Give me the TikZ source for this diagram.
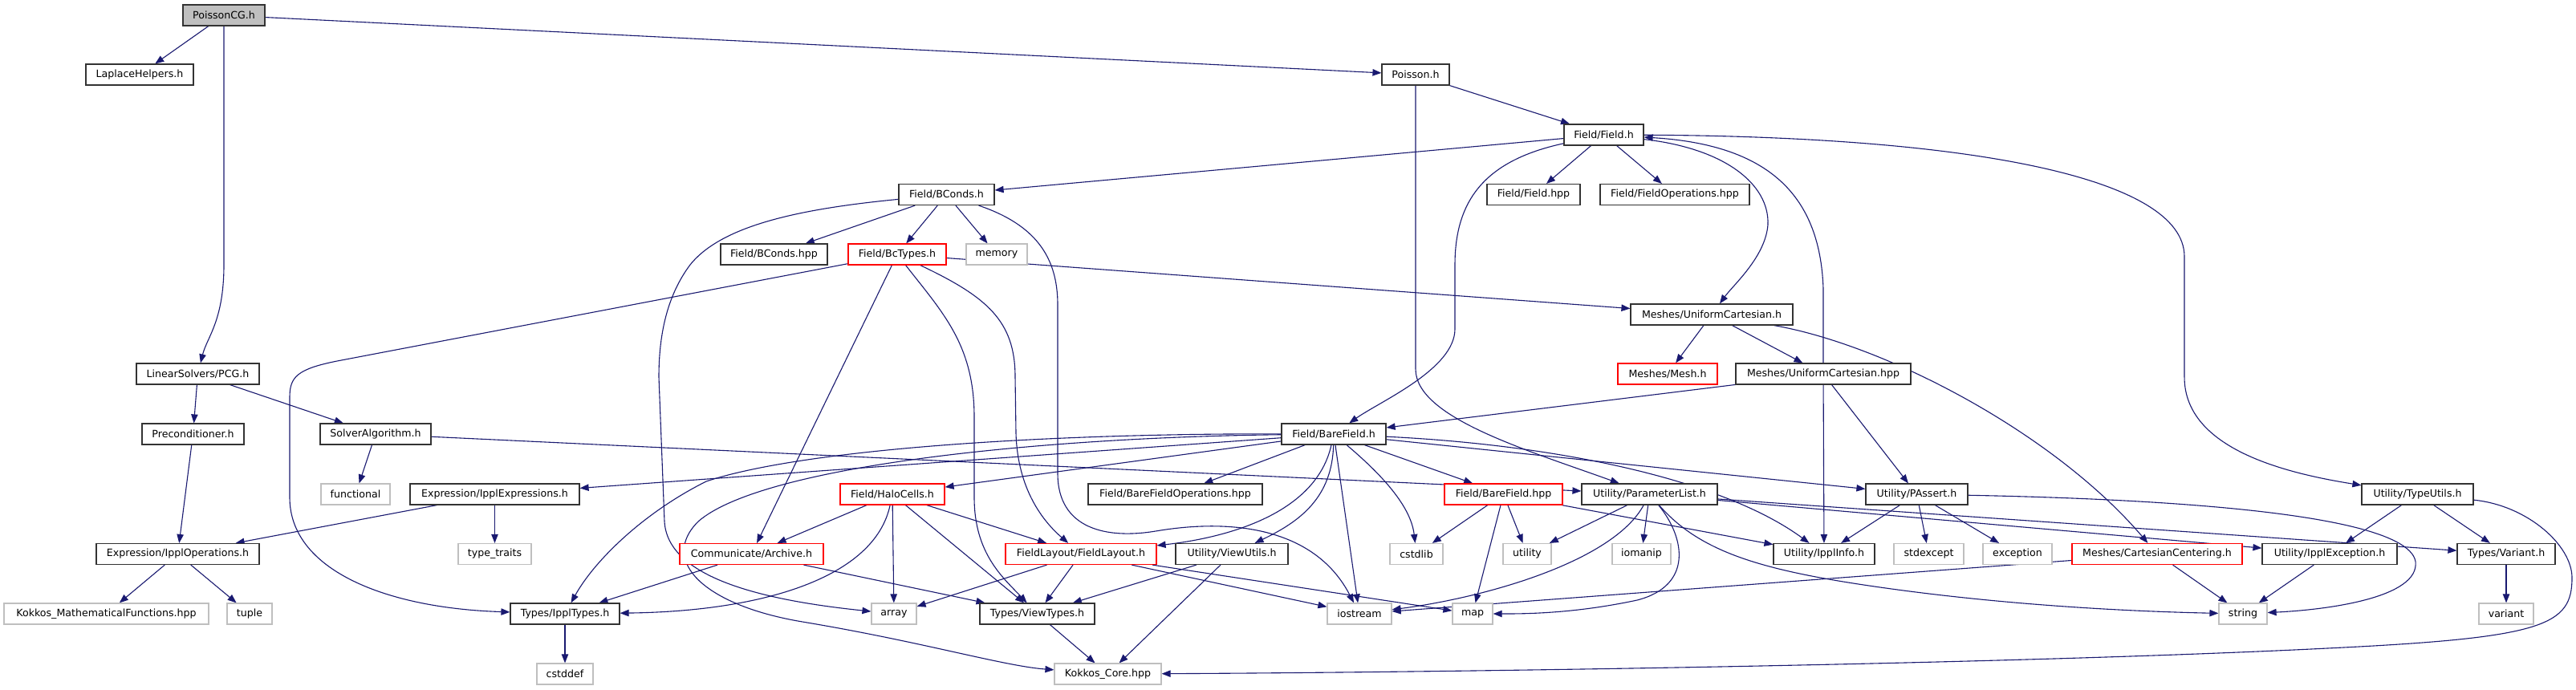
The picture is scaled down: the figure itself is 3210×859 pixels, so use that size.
\documentclass[tikz,border=0pt]{standalone}
\usepackage{fontspec}
\setmainfont{DejaVu Sans}
\usetikzlibrary{arrows.meta,calc}
\definecolor{edgeblue}{HTML}{191970}
\definecolor{extgray}{HTML}{BFBFBF}
\definecolor{boxline}{HTML}{333333}
\pgfdeclarelayer{bg}
\pgfsetlayers{bg,main}
\begin{document}
\begin{tikzpicture}[x=0.5pt,y=-0.5pt,
  box/.style={draw=boxline,line width=0.6pt,fill=white,minimum height=13pt,inner sep=0pt,
    font=\fontsize{6.3}{7.5}\selectfont,text=black},
  redbox/.style={box,draw=red},
  extbox/.style={box,draw=extgray},
  rootbox/.style={box,fill=extgray},
  bw/.style={minimum width=#1*0.5pt},
  e/.style={draw=edgeblue,line width=0.55pt,-{Triangle[length=5.5pt,width=4.2pt]}}]
\path[use as bounding box] (0,0) rectangle (3210,859);
% rank 0
\node[rootbox,bw=102] (pcg0) at (279,19) {PoissonCG.h};
% rank 1
\node[box,bw=134] (lap) at (174,93) {LaplaceHelpers.h};
\node[box,bw=84] (poi) at (1764,93) {Poisson.h};
% rank 2
\node[box,bw=99] (fld) at (1998.5,168) {Field/Field.h};
% rank 3
\node[box,bw=119] (bc) at (1179.5,242.5) {Field/BConds.h};
\node[box,bw=116] (fhpp) at (1911,242.5) {Field/Field.hpp};
\node[box,bw=186] (fops) at (2087,242.5) {Field/FieldOperations.hpp};
% rank 4
\node[box,bw=133] (bchpp) at (964.5,317) {Field/BConds.hpp};
\node[redbox,bw=122] (bct) at (1118,317) {Field/BcTypes.h};
\node[extbox,bw=76] (mem) at (1242,317) {memory};
% rank 5
\node[box,bw=202] (uc) at (2133,392) {Meshes/UniformCartesian.h};
% rank 6
\node[box,bw=153] (lpcg) at (246.5,466) {LinearSolvers/PCG.h};
\node[redbox,bw=124] (mesh) at (2078,466) {Meshes/Mesh.h};
\node[box,bw=218] (uchpp) at (2272,466) {Meshes/UniformCartesian.hpp};
% rank 7
\node[box,bw=127] (prec) at (240.5,541) {Preconditioner.h};
\node[box,bw=138] (solv) at (468,541) {SolverAlgorithm.h};
\node[box,bw=130] (bf) at (1662,541) {Field/BareField.h};
% rank 8
\node[extbox,bw=86] (func) at (443,616) {functional};
\node[box,bw=211] (iexpr) at (616.5,616) {Expression/IpplExpressions.h};
\node[redbox,bw=130] (halo) at (1112,616) {Field/HaloCells.h};
\node[box,bw=217] (bfops) at (1464.5,616) {Field/BareFieldOperations.hpp};
\node[redbox,bw=147] (bfhpp) at (1873.5,616) {Field/BareField.hpp};
\node[box,bw=169] (plist) at (2055.5,616) {Utility/ParameterList.h};
\node[box,bw=127] (pass) at (2388.5,616) {Utility/PAssert.h};
\node[box,bw=139] (tut) at (3012.5,616) {Utility/TypeUtils.h};
% rank 9
\node[box,bw=203] (iops) at (221.5,690.5) {Expression/IpplOperations.h};
\node[extbox,bw=91] (tt) at (616.5,690.5) {type\_traits};
\node[redbox,bw=179] (arch) at (936.5,690.5) {Communicate/Archive.h};
\node[redbox,bw=188] (flay) at (1347,690.5) {FieldLayout/FieldLayout.h};
\node[box,bw=140] (vu) at (1535,690.5) {Utility/ViewUtils.h};
\node[extbox,bw=66] (cstdlib) at (1765,690.5) {cstdlib};
\node[extbox,bw=60] (utility) at (1903,690.5) {utility};
\node[extbox,bw=73] (iomanip) at (2045.5,690.5) {iomanip};
\node[box,bw=126] (info) at (2273,690.5) {Utility/IpplInfo.h};
\node[extbox,bw=87] (stdexcept) at (2403.5,690.5) {stdexcept};
\node[extbox,bw=86] (exception) at (2514,690.5) {exception};
\node[redbox,bw=212] (cc) at (2688,690.5) {Meshes/CartesianCentering.h};
\node[box,bw=168] (iexc) at (2903,690.5) {Utility/IpplException.h};
\node[box,bw=122] (var) at (3123,690.5) {Types/Variant.h};
% rank 10
\node[extbox,bw=255] (kmf) at (132.5,765) {Kokkos\_MathematicalFunctions.hpp};
\node[extbox,bw=56] (tuple) at (311,765) {tuple};
\node[box,bw=136] (itypes) at (704,765) {Types/IpplTypes.h};
\node[extbox,bw=56] (array) at (1114,765) {array};
\node[box,bw=143] (vt) at (1292.5,765) {Types/ViewTypes.h};
\node[extbox,bw=80] (iostream) at (1694,765) {iostream};
\node[extbox,bw=50] (map) at (1835,765) {map};
\node[extbox,bw=60] (string) at (2795,765) {string};
\node[extbox,bw=68] (variant) at (3123,765) {variant};
% rank 11
\node[extbox,bw=70] (cstddef) at (704,840) {cstddef};
\node[extbox,bw=133] (kc) at (1380.5,840) {Kokkos\_Core.hpp};

\begin{pgfonlayer}{bg}
\fill[white] (0,0) rectangle (3210,859);
\draw[e] (pcg0) -- (lap);
\draw[e] (pcg0) -- (279,330) .. controls (279,400) and (258,420) .. (lpcg);
\draw[e] (pcg0) -- (poi);
\draw[e] (poi) -- (fld);
\draw[e] (poi) -- (1764,460) .. controls (1764,520) and (1900,560) .. (plist);
\draw[e] (fld) -- (bc);
\draw[e] (fld) -- (fhpp);
\draw[e] (fld) -- (fops);
\draw[e] (fld) .. controls (1850,200) and (1813,250) .. (1813,330) -- (1813,410) .. controls (1813,460) and (1720,500) .. (bf);
\draw[e] (fld) .. controls (2150,185) and (2205,230) .. (2203,280) .. controls (2200,320) and (2160,355) .. (uc);
\draw[e] (fld) .. controls (2450,170) and (2722,220) .. (2722,320) -- (2722,470) .. controls (2722,560) and (2850,590) .. (tut);
\draw[e] (uchpp) -- (2272,360) .. controls (2268,240) and (2200,180) .. (fld);
\draw[e] (bc) -- (bchpp);
\draw[e] (bc) -- (bct);
\draw[e] (bc) -- (mem);
\draw[e] (bc) .. controls (1290,280) and (1318,320) .. (1318,380) -- (1318,590) .. controls (1318,660) and (1380,672) .. (1440,662) .. controls (1540,645) and (1640,660) .. (iostream);
\draw[e] (bc) .. controls (1000,260) and (900,280) .. (860,330) .. controls (830,370) and (821,420) .. (821,470) -- (828,650) .. controls (832,720) and (950,748) .. (array);
\draw[e] (bct) -- (uc);
\draw[e] (bct) -- (420,450) .. controls (370,460) and (361,470) .. (361,495) -- (361,620) .. controls (361,710) and (480,758) .. (itypes);
\draw[e] (bct) -- (arch);
\draw[e] (bct) .. controls (1175,390) and (1214,430) .. (1214,520) -- (1214,620) .. controls (1214,690) and (1250,720) .. (vt);
\draw[e] (bct) .. controls (1230,370) and (1265,400) .. (1265,470) -- (1266,540) .. controls (1268,610) and (1300,650) .. (flay);
\draw[e] (halo) -- (arch);
\draw[e] (halo) .. controls (1090,720) and (950,762) .. (itypes);
\draw[e] (halo) -- (array);
\draw[e] (halo) -- (vt);
\draw[e] (halo) -- (flay);
\draw[e] (arch) -- (itypes);
\draw[e] (arch) -- (vt);
\draw[e] (itypes) -- (cstddef);
\draw[e] (flay) -- (array);
\draw[e] (flay) -- (vt);
\draw[e] (flay) -- (iostream);
\draw[e] (flay) -- (map);
\draw[e] (vu) -- (vt);
\draw[e] (vu) -- (kc);
\draw[e] (vt) -- (kc);
\draw[e] (bf) -- (iexpr);
\draw[e] (bf) -- (halo);
\draw[e] (bf) -- (bfops);
\draw[e] (bf) .. controls (1640,640) and (1530,670) .. (flay);
\draw[e] (bf) .. controls (1660,620) and (1620,650) .. (vu);
\draw[e] (bf) -- (iostream);
\draw[e] (bf) .. controls (1720,590) and (1758,630) .. (cstdlib);
\draw[e] (bf) -- (bfhpp);
\draw[e] (bf) -- (pass);
\draw[e] (bf) .. controls (1950,555) and (2150,600) .. (info);
\draw[e] (bf) .. controls (1300,540) and (1000,560) .. (880,600) .. controls (800,640) and (740,700) .. (itypes);
\draw[e] (bf) .. controls (1300,545) and (950,580) .. (870,650) .. controls (820,700) and (880,755) .. (1000,775) .. controls (1150,800) and (1250,830) .. (kc);
\draw[e] (uchpp) -- (bf);
\draw[e] (uchpp) -- (info);
\draw[e] (uchpp) -- (pass);
\draw[e] (uc) -- (mesh);
\draw[e] (uc) -- (uchpp);
\draw[e] (uc) .. controls (2350,430) and (2560,540) .. (cc);
\draw[e] (lpcg) -- (prec);
\draw[e] (lpcg) -- (solv);
\draw[e] (prec) -- (iops);
\draw[e] (solv) -- (func);
\draw[e] (solv) -- (plist);
\draw[e] (iexpr) -- (iops);
\draw[e] (iexpr) -- (tt);
\draw[e] (iops) -- (kmf);
\draw[e] (iops) -- (tuple);
\draw[e] (bfhpp) -- (cstdlib);
\draw[e] (bfhpp) -- (map);
\draw[e] (bfhpp) -- (utility);
\draw[e] (bfhpp) -- (info);
\draw[e] (plist) -- (utility);
\draw[e] (plist) -- (iomanip);
\draw[e] (plist) .. controls (2010,700) and (1850,745) .. (iostream);
\draw[e] (plist) .. controls (2100,670) and (2110,730) .. (2040,748) .. controls (1960,765) and (1900,765) .. (map);
\draw[e] (plist) .. controls (2120,690) and (2200,712) .. (2350,733) .. controls (2500,754) and (2650,762) .. (string);
\draw[e] (plist) -- (iexc);
\draw[e] (plist) -- (var);
\draw[e] (pass) -- (info);
\draw[e] (pass) -- (stdexcept);
\draw[e] (pass) -- (exception);
\draw[e] (pass) .. controls (2700,622) and (3000,640) .. (3010,700) .. controls (3015,745) and (2900,760) .. (string);
\draw[e] (cc) -- (string);
\draw[e] (cc) -- (iostream);
\draw[e] (iexc) -- (string);
\draw[e] (tut) -- (iexc);
\draw[e] (tut) -- (var);
\draw[e] (tut) .. controls (3150,630) and (3205,680) .. (3205,720) .. controls (3205,780) and (3170,795) .. (2900,808) .. controls (2500,828) and (1800,838) .. (kc);
\draw[e] (var) -- (variant);
\end{pgfonlayer}
\end{tikzpicture}
\end{document}
